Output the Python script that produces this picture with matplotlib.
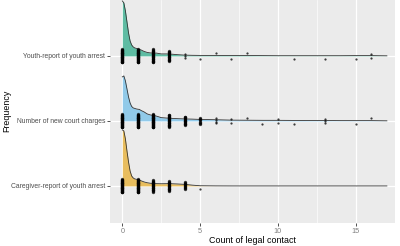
import numpy as np
import matplotlib
matplotlib.use("Agg")
import matplotlib.pyplot as plt

# ---------------------------------------------------------------------------
# Ridgeline (raincloud-style) plot of legal contact counts, three measures.
# Values.
# ---------------------------------------------------------------------------
categories = [
    "Caregiver-report of youth arrest",
    "Number of new court charges",
    "Youth-report of youth arrest",
]
colors = ["#E69F00", "#56B4E9", "#009E73"]

# density outline (relative height, pixel units of the original figure)
dens_x = [0, 0.1, 0.2, 0.3, 0.4, 0.5, 0.6, 0.7, 0.8, 0.9, 1.0, 1.1, 1.2,
          1.4, 1.6, 1.8, 2.0, 2.2, 2.5, 3.0, 3.5, 4.0, 4.5, 5, 6, 7, 8,
          9, 10, 11, 12, 13, 14, 15, 16, 17]
dens_caregiver = [56, 55, 47, 35, 24, 15, 10, 8, 7, 6.7, 6.3, 6, 5.2,
                  4, 3.2, 2.7, 2.4, 2.3, 2.2, 2.3, 2, 1.6, 0.8, 0.2, 0.05, 0,
                  0, 0, 0, 0, 0, 0, 0, 0, 0, 0]
dens_court = [44, 45, 40, 32, 24, 18, 14.5, 13, 12.5, 12, 11.7, 11.5, 10.5,
              9, 7, 6, 5.5, 4.8, 3.3, 2.7, 2.3, 2, 1.8, 1.5, 1.2, 0.8, 0.7,
              0.6, 0.6, 0.5, 0.4, 0.4, 0.3, 0.3, 0.3, 0.1]
dens_youth = [55, 53, 45, 34, 23, 15, 11, 9, 8, 7.5, 7, 6.5, 6,
              4.5, 3.5, 3, 3, 2.8, 2, 2, 1.3, 0.8, 0.6, 0.5, 0.5, 0.4, 0.4,
              0.3, 0.2, 0.2, 0.2, 0.2, 0.2, 0.3, 0.3, 0.1]

# observed counts (value -> number of participants, approximate)
vals_caregiver = [0, 1, 2, 3, 4, 5]
n_caregiver = [200, 40, 18, 14, 8, 1]
vals_court = [0, 1, 2, 3, 4, 5, 6, 7, 8, 9, 10, 11, 13, 15, 16]
n_court = [180, 60, 30, 20, 12, 6, 4, 2, 1, 1, 2, 1, 3, 1, 1]
vals_youth = [0, 1, 2, 3, 4, 5, 6, 7, 8, 11, 13, 15, 16]
n_youth = [200, 40, 22, 15, 3, 1, 1, 1, 1, 1, 1, 1, 2]

densities = [dens_caregiver, dens_court, dens_youth]
point_vals = [vals_caregiver, vals_court, vals_youth]
point_ns = [n_caregiver, n_court, n_youth]

plt.rcParams["font.family"] = ["Liberation Sans", "DejaVu Sans"]

fig = plt.figure(figsize=(4.0, 2.46), dpi=100)
ax = fig.add_axes([0.275, 0.0935, 0.7125, 0.9065])
ax.set_facecolor("#EBEBEB")

ax.set_xlim(-0.79, 17.52)
ax.set_ylim(0.43, 3.86)
ax.set_xticks([0, 5, 10, 15])
ax.set_xticks([2.5, 7.5, 12.5, 17.5], minor=True)
ax.set_yticks([1, 2, 3])
ax.set_yticklabels(categories)
ax.grid(True, which="major", color="white", linewidth=0.9)
ax.grid(True, which="minor", axis="x", color="white", linewidth=0.45)
ax.set_axisbelow(True)
for s in ax.spines.values():
    s.set_visible(False)
ax.tick_params(axis="both", which="major", length=2, width=0.6,
               color="#333333", labelsize=4.9, labelcolor="#4D4D4D", pad=1.5)
ax.tick_params(axis="x", labelcolor="#7F7F7F", labelsize=5.2)
ax.tick_params(axis="both", which="minor", length=0)

scale = 1 / 65.0
x = np.array(dens_x)
# draw top ridge first so the lower ones sit on top
for i in [2, 1, 0]:
    base = i + 1
    h = np.array(densities[i]) * scale
    ax.fill_between(x, base, base + h, color=colors[i], alpha=0.6,
                    linewidth=0, zorder=2 + (3 - i))
    ax.plot(x, base + h, color="#333333", linewidth=0.6, zorder=2 + (3 - i))
    # jittered points, spread evenly instead of randomly
    for v, n in zip(point_vals[i], point_ns[i]):
        if n == 1:
            offs = np.array([-0.04 if int(v) % 2 else 0.04])
        else:
            spread = min(0.1, 0.025 + 0.0035 * n)
            offs = np.linspace(-spread, spread, min(n, 30))
        ax.plot(np.full(len(offs), v), base + offs, "o", color="black",
                markersize=2.4 if n > 5 else 1.6, markeredgewidth=0,
                alpha=0.75, zorder=2 + (3 - i))

ax.set_xlabel("Count of legal contact", fontsize=6.4, labelpad=1)
fig.text(0.016, 0.55, "Frequency", rotation=90, fontsize=6.4,
         ha="center", va="center")

fig.savefig("out.png", dpi=100)
